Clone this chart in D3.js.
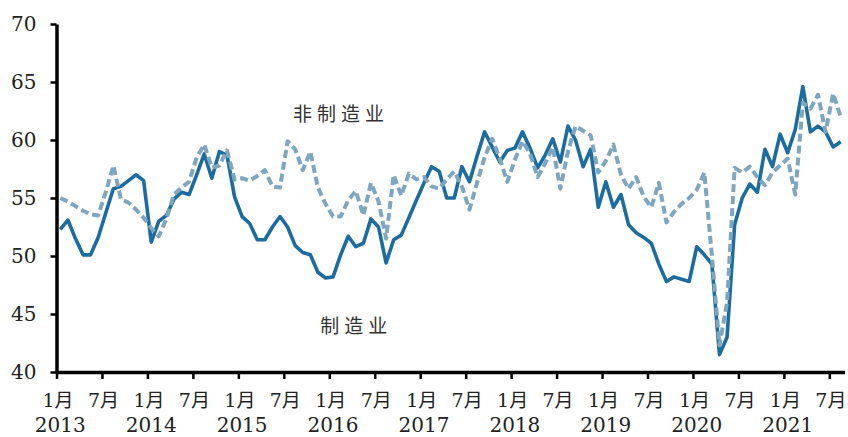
<!DOCTYPE html>
<html><head><meta charset="utf-8">
<script src="https://cdn.jsdelivr.net/npm/d3@7/dist/d3.min.js"></script>
<style>body{margin:0;background:#fff}</style>
</head><body>
<svg id="c" width="848" height="437"></svg>
<script>
// ---- data (monthly, Jan 2013 .. Aug 2021) ----
const years = ["2013","2014","2015","2016","2017","2018","2019","2020","2021"];
const halfYearLabels = ["1月","7月"];
const yTicks = [40,45,50,55,60,65,70];
const seriesNames = ["制造业","非制造业"];

const manufacturing = [
  52.3,53.1,51.5,50.1,50.1,51.6,53.7,55.8,56.0,56.5,57.0,56.5,
  51.2,53.0,53.5,54.9,55.5,55.3,57.0,58.8,56.7,59.0,58.7,55.1,
  53.4,52.8,51.4,51.4,52.5,53.4,52.5,50.9,50.3,50.1,48.6,48.1,
  48.2,50.1,51.7,50.8,51.1,53.2,52.5,49.4,51.4,51.8,53.3,54.8,
  56.3,57.7,57.3,55.0,55.0,57.7,56.4,58.6,60.7,59.4,58.1,59.1,
  59.3,60.7,59.3,57.6,58.7,60.1,58.1,61.2,60.0,57.7,59.2,54.2,
  56.4,54.2,55.3,52.7,52.0,51.6,51.1,49.3,47.8,48.2,48.0,47.8,
  50.8,50.1,49.3,41.5,43.0,52.7,55.0,56.2,55.5,59.2,57.7,60.5,
  58.9,60.9,64.6,60.7,61.2,60.7,59.4,59.85
];
const nonManufacturing = [
  55.0,54.7,54.3,53.9,53.6,53.5,55.5,57.8,54.9,54.6,54.0,53.3,
  52.4,51.7,53.2,55.3,55.9,56.4,58.5,59.6,57.6,57.8,59.1,56.6,
  56.7,56.5,56.9,57.4,56.0,55.9,59.9,59.2,57.4,59.0,55.9,54.5,
  53.4,53.4,54.8,55.6,53.5,56.3,54.7,51.5,57.0,55.2,57.1,56.6,
  56.8,56.0,55.8,56.6,57.3,56.0,54.0,56.3,58.5,60.1,58.4,56.4,
  58.3,59.9,58.8,56.8,58.0,59.4,55.8,59.0,61.2,60.8,60.4,57.2,
  58.2,59.6,57.0,55.8,56.8,55.1,54.2,56.3,52.9,53.8,54.5,55.0,
  55.7,57.2,50.0,42.3,46.0,57.6,57.2,57.7,56.8,56.1,57.2,57.8,
  58.4,55.3,63.2,62.7,63.9,60.7,64.0,62.0
];

const svg = d3.select("#c");
const nMonths = 104;
const x = d3.scaleLinear().domain([0, nMonths]).range([56.5, 844.5]);
const y = d3.scaleLinear().domain([40, 70]).range([372, 24]);

const line = d3.line().x((d,i)=>x(i+0.5)).y(d=>y(d));

// lines
svg.append("path").datum(manufacturing).attr("d", line)
  .attr("fill","none").attr("stroke","#1d6c9f").attr("stroke-width",3.6)
  .attr("stroke-linejoin","round");
svg.append("path").datum(nonManufacturing).attr("d", line)
  .attr("fill","none").attr("stroke","#7ea6bf").attr("stroke-width",4)
  .attr("stroke-dasharray","8,4").attr("stroke-linejoin","round");

// y axis
const yAxis = d3.axisLeft(y).tickValues(yTicks).tickSize(6).tickSizeOuter(0).tickPadding(14);
const gy = svg.append("g").attr("transform","translate(56.5,0)").call(yAxis);
gy.select(".domain").attr("stroke","#000").attr("stroke-width",3.5);
gy.selectAll(".tick line").attr("stroke","#000").attr("stroke-width",2.5);
gy.selectAll(".tick text").attr("font-family","'DejaVu Serif', serif").attr("font-size",20).attr("fill","#222");

// x axis
const tickVals = d3.range(0, nMonths, 6);
const xAxis = d3.axisBottom(x).tickValues(tickVals)
  .tickFormat(d => halfYearLabels[(d/6)%2]).tickSize(7).tickSizeOuter(0).tickPadding(15);
const gx = svg.append("g").attr("transform","translate(0,372)").call(xAxis);
gx.select(".domain").attr("stroke","#000").attr("stroke-width",3.5);
gx.selectAll(".tick line").attr("stroke","#000").attr("stroke-width",2.5);
gx.selectAll(".tick text").attr("font-family","'DejaVu Serif','Noto Sans CJK SC', serif")
  .attr("font-size",19).attr("fill","#222").attr("dx",1);

// year labels
svg.append("g").selectAll("text").data(years).join("text")
  .attr("x",(d,i)=>x(i*12+0.5)).attr("y",432)
  .attr("text-anchor","middle").attr("font-family","'DejaVu Serif', serif")
  .attr("font-size",20).attr("fill","#222").text(d=>d);

// series annotations
svg.append("text").attr("x", x(31.2)).attr("y", y(61.6))
  .attr("font-family","'Noto Sans CJK SC'").attr("font-size",19).attr("letter-spacing",5)
  .attr("fill","#333").text(seriesNames[1]);
svg.append("text").attr("x", x(34.8)).attr("y", y(43.4))
  .attr("font-family","'Noto Sans CJK SC'").attr("font-size",19).attr("letter-spacing",5)
  .attr("fill","#333").text(seriesNames[0]);
</script>
</body></html>
